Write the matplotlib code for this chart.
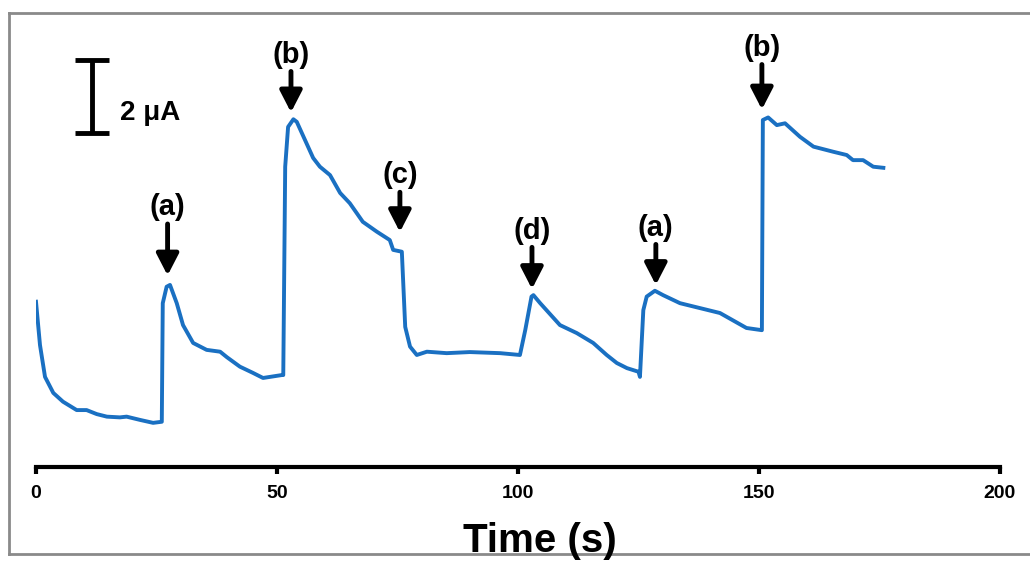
import matplotlib
matplotlib.use('Agg')
import matplotlib.pyplot as plt
from matplotlib.lines import Line2D

# ── Data (time in s, current in uA) ─────────────────────────────────────────
time_s = [0.0, 0.83, 1.87, 3.59, 5.6, 8.44, 10.5, 12.6, 14.7, 17.4, 18.8, 21.6,
          24.3, 26.1, 26.3, 27.1, 27.8, 29.2, 30.5, 32.6, 35.4, 38.2, 39.6, 42.3,
          45.0, 47.1, 51.0, 51.3, 51.7, 52.3, 53.4, 54.1, 57.5, 58.9, 61.0, 63.1,
          65.1, 67.8, 70.7, 73.4, 74.1, 75.9, 76.6, 77.6, 79.0, 81.1, 85.2, 90.0,
          96.3, 100.4, 101.5, 102.8, 103.2, 104.6, 108.7, 112.2, 115.6, 118.4,
          120.5, 122.6, 125.0, 125.3, 126.0, 126.7, 128.4, 130.1, 133.6, 141.9,
          147.4, 150.6, 150.8, 151.9, 153.7, 155.4, 158.5, 161.3, 165.4, 168.2,
          169.5, 171.6, 173.7, 175.8]
current_uA = [4.53, 3.34, 2.47, 2.03, 1.79, 1.56, 1.56, 1.45, 1.38, 1.36, 1.38, 1.29,
              1.21, 1.24, 4.49, 4.94, 4.99, 4.49, 3.89, 3.40, 3.21, 3.16, 3.01, 2.75,
              2.58, 2.44, 2.52, 2.52, 8.23, 9.32, 9.53, 9.46, 8.47, 8.23, 8.00, 7.51,
              7.23, 6.72, 6.45, 6.22, 5.95, 5.90, 3.84, 3.30, 3.07, 3.16, 3.12, 3.15,
              3.12, 3.07, 3.75, 4.67, 4.71, 4.49, 3.89, 3.67, 3.40, 3.07,
              2.85, 2.71, 2.61, 2.47, 4.30, 4.67, 4.83, 4.71, 4.49, 4.22,
              3.81, 3.75, 9.51, 9.58, 9.37, 9.42, 9.05, 8.78, 8.64, 8.55,
              8.41, 8.41, 8.23, 8.20]

# injection markers: label, time, current at arrow tip, label height
marker_labels = ['(a)', '(b)', '(c)', '(d)', '(a)', '(b)']
marker_times = [27.3, 52.9, 75.5, 102.9, 128.6, 150.6]
marker_tips = [5.25, 9.72, 6.44, 4.88, 4.99, 9.80]
marker_label_y = [7.12, 11.30, 7.99, 6.48, 6.56, 11.49]

scale_bar_uA = 2.0
xticks = [0, 50, 100, 150, 200]

BLUE = '#1a70c2'
FONT = ['Liberation Sans', 'DejaVu Sans']

fig = plt.figure(figsize=(10.30, 5.61), dpi=100)
ax = fig.add_axes([36 / 1030, 94 / 561, 964 / 1030, 455 / 561])

ax.plot(time_s, current_uA, color=BLUE, lw=2.8, solid_joinstyle='round')

ax.set_xlim(0, 200)
ax.set_ylim(0, 12.47)

# arrows + labels
for lab, t, tip, ly in zip(marker_labels, marker_times, marker_tips, marker_label_y):
    ax.annotate(lab, xy=(t, tip), xytext=(t, ly),
                ha='center', va='center', fontsize=21, fontweight='bold',
                family=FONT,
                arrowprops=dict(arrowstyle='-|>,head_length=0.62,head_width=0.32',
                                color='black', lw=3.5, shrinkA=0, shrinkB=0))

# scale bar
ax.errorbar([11.6], [10.15], yerr=scale_bar_uA / 2, fmt='none', ecolor='black',
            elinewidth=3.5, capsize=12, capthick=3.5)
ax.text(17.4, 9.7, f'{scale_bar_uA:.0f} \u03bcA', fontsize=20, fontweight='bold',
        ha='left', va='center', family=FONT)

# axis styling
for side in ['left', 'right', 'top']:
    ax.spines[side].set_visible(False)
ax.spines['bottom'].set_linewidth(3)
ax.set_yticks([])
ax.set_xticks(xticks, labels=[str(v) for v in xticks], fontsize=14,
              fontweight='bold', family=FONT)
ax.tick_params(axis='x', direction='out', length=5, width=3, pad=8)

fig.text(540 / 1030, 1 - 541 / 561, 'Time (s)', ha='center', va='center',
         fontsize=29, fontweight='bold', family=FONT)

# gray frame (right side falls off the picture)
frame = dict(color='#8a8a8a', lw=2, transform=fig.transFigure)
fig.add_artist(Line2D([9 / 1030, 1.0], [1 - 13 / 561] * 2, **frame))
fig.add_artist(Line2D([9 / 1030] * 2, [1 - 13 / 561, 1 - 554 / 561], **frame))
fig.add_artist(Line2D([9 / 1030, 1.0], [1 - 554 / 561] * 2, **frame))

fig.savefig('out.png', dpi=100)
